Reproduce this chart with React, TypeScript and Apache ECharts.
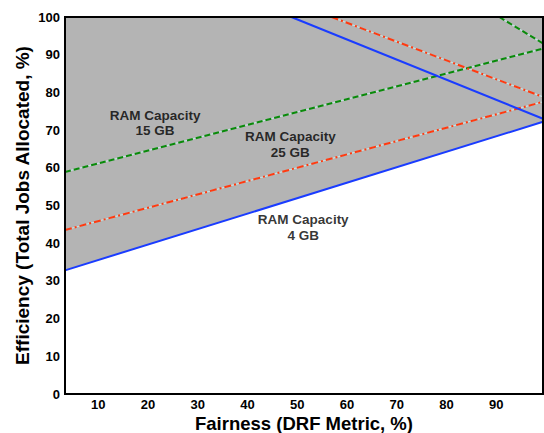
import React, { useEffect, useRef } from "react";
import * as echarts from "echarts";

const X_MIN = 3.3;
const X_MAX = 99.4;
const xTickValues = [10, 20, 30, 40, 50, 60, 70, 80, 90];

// Boundary lines (Fairness %, Efficiency %)
const blue4Rise = [[3.3, 32.8], [99.4, 72.2]];
const blue4Fall = [[48.8, 100], [99.4, 73.0]];
const red25Rise = [[3.3, 43.5], [99.4, 77.5]];
const red25Fall = [[56.9, 100], [99.4, 78.8]];
const green15Rise = [[3.3, 58.9], [99.4, 91.6]];
const green15Fall = [[90.6, 100], [99.4, 93.0]];
const feasibleRegion = [[3.3, 32.8], [3.3, 100], [99.4, 100], [99.4, 72.2]];

const capacityLabels = ["RAM Capacity\n15 GB", "RAM Capacity\n25 GB", "RAM Capacity\n4 GB"];
const labelX = [21.4, 48.6, 51.2];
const labelY = [71.9, 66.2, 44.2];

const FONT = "'Liberation Sans', Arial, Helvetica, sans-serif";
const BLUE = "#1a3cff";
const RED = "#ff3a10";
const GREEN = "#0a8a0a";
const GAP = "#c6e2e2";

function lineSeries(data: number[][], color: string, type: any, z: number) {
  return {
    type: "line",
    data,
    showSymbol: false,
    symbol: "none",
    z,
    lineStyle: { color, width: 2, type },
    silent: true,
  };
}

export default function App() {
  const ref = useRef<HTMLDivElement>(null);
  useEffect(() => {
    const chart = echarts.init(ref.current!, null, { renderer: "svg" });
    chart.setOption({
      animation: false,
      grid: {
        left: 65,
        right: 1,
        top: 17,
        bottom: 39,
        containLabel: false,
        outerBoundsMode: "none",
        show: true,
        borderColor: "#000",
        borderWidth: 2,
        backgroundColor: "transparent",
        z: 10,
      },
      xAxis: {
        type: "value",
        min: X_MIN,
        max: X_MAX,
        name: "Fairness (DRF Metric, %)",
        nameLocation: "middle",
        nameGap: 20,
        nameMoveOverlap: false,
        nameTextStyle: {
          fontFamily: FONT,
          fontWeight: "bold",
          fontSize: 18.5,
          lineHeight: 18,
          color: "#000",
        },
        axisLine: { show: false },
        axisTick: { show: false },
        splitLine: { show: false },
        axisLabel: {
          customValues: xTickValues,
          fontFamily: FONT,
          fontWeight: "bold",
          fontSize: 13,
          lineHeight: 13,
          color: "#000",
          margin: 4,
        },
      },
      yAxis: {
        type: "value",
        min: 0,
        max: 100,
        interval: 10,
        name: "Efficiency (Total Jobs Allocated, %)",
        nameLocation: "middle",
        nameGap: 33,
        nameMoveOverlap: false,
        nameTextStyle: { fontFamily: FONT, fontWeight: "bold", fontSize: 19, color: "#000" },
        axisLine: { show: false },
        axisTick: { show: false },
        splitLine: { show: false },
        axisLabel: {
          fontFamily: FONT,
          fontWeight: "bold",
          fontSize: 13,
          color: "#000",
          margin: 5,
        },
      },
      series: [
        {
          type: "custom",
          data: feasibleRegion,
          z: 1,
          silent: true,
          renderItem: (params: any, api: any) => {
            if (params.dataIndex !== 0) return null;
            const pts = feasibleRegion.map((p) => api.coord(p));
            return { type: "polygon", shape: { points: pts }, style: { fill: "#b4b4b4" } };
          },
        },
        { ...lineSeries(green15Rise, GAP, "solid", 2), lineStyle: { color: GAP, width: 1.2 } },
        { ...lineSeries(green15Fall, GAP, "solid", 2), lineStyle: { color: GAP, width: 1.2 } },
        { ...lineSeries(red25Rise, GAP, "solid", 2), lineStyle: { color: GAP, width: 1.2 } },
        { ...lineSeries(red25Fall, GAP, "solid", 2), lineStyle: { color: GAP, width: 1.2 } },
        lineSeries(green15Rise, GREEN, [6, 3], 3),
        lineSeries(green15Fall, GREEN, [6, 3], 3),
        lineSeries(red25Rise, RED, [7, 3, 2, 3], 3),
        lineSeries(red25Fall, RED, [7, 3, 2, 3], 3),
        lineSeries(blue4Rise, BLUE, "solid", 4),
        lineSeries(blue4Fall, BLUE, "solid", 4),
        {
          type: "scatter",
          symbolSize: 0,
          z: 5,
          silent: true,
          data: capacityLabels.map((t, i) => ({ value: [labelX[i], labelY[i]], name: t })),
          label: {
            show: true,
            position: "inside",
            formatter: (p: any) => p.name,
            fontFamily: FONT,
            fontWeight: "bold",
            fontSize: 13.5,
            lineHeight: 15.5,
            color: "#000",
            align: "center",
          },
        },
      ],
    });
    return () => chart.dispose();
  }, []);
  return (
    <div
      ref={ref}
      style={{ position: "fixed", left: 0, top: 0, width: 544, height: 433, background: "#fff" }}
    />
  );
}
